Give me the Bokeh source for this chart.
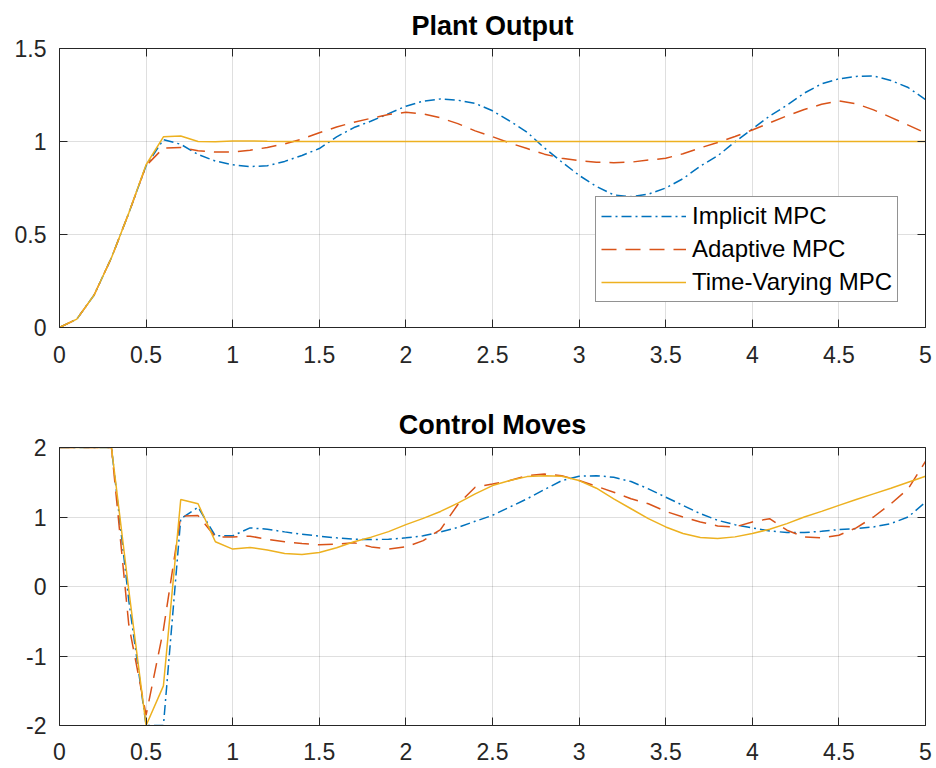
from bokeh.plotting import figure
from bokeh.layouts import column
from bokeh.models import (Range1d, LinearAxis, FixedTicker, CustomJSTickFormatter,
                          Legend, LegendItem)
from bokeh.embed import file_html
from bokeh.resources import INLINE

# ---------------- data ----------------
time = [0.0, 0.1, 0.2, 0.3, 0.4, 0.5, 0.6, 0.7, 0.8, 0.9,
        1.0, 1.1, 1.2, 1.3, 1.4, 1.5, 1.6, 1.7, 1.8, 1.9,
        2.0, 2.1, 2.2, 2.3, 2.4, 2.5, 2.6, 2.7, 2.8, 2.9,
        3.0, 3.1, 3.2, 3.3, 3.4, 3.5, 3.6, 3.7, 3.8, 3.9,
        4.0, 4.1, 4.2, 4.3, 4.4, 4.5, 4.6, 4.7, 4.8, 4.9, 5.0]

plant_implicit = [0, 0.045, 0.175, 0.375, 0.615, 0.87, 1.01, 0.985, 0.93, 0.895,
                  0.875, 0.865, 0.87, 0.893, 0.925, 0.962, 1.025, 1.075, 1.11, 1.15,
                  1.19, 1.217, 1.229, 1.222, 1.205, 1.165, 1.11, 1.05, 0.965, 0.89,
                  0.818, 0.758, 0.713, 0.703, 0.717, 0.75, 0.8, 0.868, 0.923, 0.998,
                  1.067, 1.137, 1.195, 1.26, 1.31, 1.337, 1.35, 1.352, 1.328, 1.29, 1.225]

plant_adaptive = [0, 0.045, 0.175, 0.375, 0.615, 0.87, 0.965, 0.968, 0.95, 0.943,
                  0.943, 0.953, 0.968, 0.987, 1.013, 1.047, 1.078, 1.104, 1.125, 1.145,
                  1.157, 1.149, 1.127, 1.096, 1.057, 1.026, 0.992, 0.962, 0.932, 0.91,
                  0.897, 0.889, 0.886, 0.889, 0.9, 0.91, 0.934, 0.966, 0.995, 1.027,
                  1.062, 1.1, 1.138, 1.172, 1.2, 1.219, 1.203, 1.17, 1.13, 1.088, 1.046]

plant_timevarying = [0, 0.045, 0.175, 0.375, 0.615, 0.875, 1.025, 1.03, 1.0, 0.998,
                     1.003, 1.003, 1.001, 1.0, 1.0, 1.0, 1.0, 1.0, 1.0, 1.0,
                     1.0, 1.0, 1.0, 1.0, 1.0, 1.0, 1.0, 1.0, 1.0, 1.0,
                     1.0, 1.0, 1.0, 1.0, 1.0, 1.0, 1.0, 1.0, 1.0, 1.0,
                     1.0, 1.0, 1.0, 1.0, 1.0, 1.0, 1.0, 1.0, 1.0, 1.0, 1.0]

move_implicit = [2, 2, 2, 2, -0.2, -2.0, -2.0, 0.976, 1.14, 0.729,
                 0.729, 0.843, 0.824, 0.786, 0.752, 0.724, 0.7, 0.68, 0.675, 0.68,
                 0.70, 0.73, 0.786, 0.85, 0.938, 1.024, 1.143, 1.262, 1.395, 1.524,
                 1.586, 1.595, 1.571, 1.51, 1.405, 1.286, 1.167, 1.048, 0.952, 0.89,
                 0.843, 0.8, 0.776, 0.776, 0.795, 0.819, 0.833, 0.857, 0.905, 1.0, 1.214]

move_adaptive = [2, 2, 2, 2, -0.55, -1.85, -0.62, 1.014, 1.02, 0.714,
                 0.714, 0.724, 0.68, 0.643, 0.619, 0.6, 0.61, 0.63, 0.57, 0.54,
                 0.57, 0.66, 0.82, 1.18, 1.429, 1.476, 1.524, 1.595, 1.619, 1.595,
                 1.524, 1.443, 1.357, 1.262, 1.19, 1.081, 1.0, 0.929, 0.871, 0.857,
                 0.929, 0.976, 0.81, 0.714, 0.7, 0.738, 0.843, 1.0, 1.19, 1.405, 1.8]

move_timevarying = [2, 2, 2, 2, -0.05, -2.0, -1.43, 1.252, 1.19, 0.643,
                    0.538, 0.562, 0.524, 0.476, 0.462, 0.49, 0.557, 0.643, 0.71, 0.79,
                    0.89, 0.98, 1.08, 1.2, 1.333, 1.452, 1.524, 1.581, 1.595, 1.586,
                    1.524, 1.414, 1.262, 1.119, 0.976, 0.857, 0.762, 0.705, 0.69, 0.714,
                    0.762, 0.824, 0.905, 1.0, 1.081, 1.167, 1.252, 1.333, 1.414, 1.5, 1.586]

series_names = ["Implicit MPC", "Adaptive MPC", "Time-Varying MPC"]
x_ticks = [0, 0.5, 1, 1.5, 2, 2.5, 3, 3.5, 4, 4.5, 5]
plant_y_ticks = [0, 0.5, 1, 1.5]
moves_y_ticks = [-2, -1, 0, 1, 2]

# ---------------- styling ----------------
COLORS = ["#0072BD", "#D95319", "#EDB120"]
DASHES = ["10 4 2 4", "15 9", "solid"]
AX = "#262626"
FONT = "Liberation Sans"


def style_axis(ax, ticks, labels, standoff=12):
    ax.ticker = FixedTicker(ticks=ticks)
    ax.axis_line_color = AX
    ax.axis_line_width = 1
    ax.major_tick_line_color = AX
    ax.major_tick_line_width = 1
    ax.major_tick_in = 8
    ax.major_tick_out = 0
    ax.minor_tick_line_color = None
    ax.major_label_text_font = FONT
    ax.major_label_text_color = AX
    if labels:
        ax.formatter = CustomJSTickFormatter(code="return String(tick)")
        ax.major_label_text_font_size = "23px"
        ax.major_label_standoff = standoff
    else:
        ax.formatter = CustomJSTickFormatter(code="return ''")
        ax.major_label_text_font_size = "1px"
        ax.major_label_standoff = 0


def make_fig(title, height, top, bottom, yr, yticks, xstandoff):
    p = figure(width=936, height=height, output_backend="svg", toolbar_location=None,
               x_range=Range1d(0, 5), y_range=Range1d(*yr), title=title,
               min_border_left=59, min_border_right=11,
               min_border_top=top, min_border_bottom=bottom)
    p.outline_line_color = None
    p.background_fill_color = "white"
    p.border_fill_color = "white"
    p.title.text_font = FONT
    p.title.text_font_size = "27px"
    p.title.text_font_style = "bold"
    p.title.text_color = "black"
    p.title.align = "center"
    p.title.standoff = 16
    style_axis(p.xaxis[0], x_ticks, True, standoff=xstandoff)
    style_axis(p.yaxis[0], yticks, True, standoff=13)
    top_ax = LinearAxis()
    right_ax = LinearAxis()
    style_axis(top_ax, x_ticks, False)
    style_axis(right_ax, yticks, False)
    p.add_layout(top_ax, "above")
    p.add_layout(right_ax, "right")
    p.xgrid.ticker = FixedTicker(ticks=x_ticks)
    p.ygrid.ticker = FixedTicker(ticks=yticks)
    for g in (p.xgrid[0], p.ygrid[0]):
        g.grid_line_color = AX
        g.grid_line_alpha = 0.15
        g.grid_line_width = 1
    return p


p1 = make_fig("Plant Output", 399, 47, 72, (0, 1.5), plant_y_ticks, 18)
renderers = []
for ys, c, d in zip([plant_implicit, plant_adaptive, plant_timevarying], COLORS, DASHES):
    r = p1.line(time, ys, line_color=c, line_width=1.5, line_dash=d)
    renderers.append(r)

legend = Legend(items=[LegendItem(label=n, renderers=[r]) for n, r in zip(series_names, renderers)],
                location=(536, 25))
legend.label_text_font = FONT
legend.label_text_font_size = "24px"
legend.label_text_color = "black"
legend.glyph_width = 85
legend.glyph_height = 26
legend.label_height = 26
legend.label_standoff = 6
legend.padding = 5
legend.spacing = 5
legend.margin = 0
legend.border_line_color = AX
legend.border_line_width = 1
legend.background_fill_color = "white"
legend.background_fill_alpha = 1.0
p1.add_layout(legend)

p2 = make_fig("Control Moves", 369, 46, 43, (-2, 2), moves_y_ticks, 17)
for ys, c, d in zip([move_implicit, move_adaptive, move_timevarying], COLORS, DASHES):
    p2.line(time, ys, line_color=c, line_width=1.5, line_dash=d)

layout = column(p1, p2, spacing=0)
open("out.html", "w").write(file_html(layout, INLINE))
